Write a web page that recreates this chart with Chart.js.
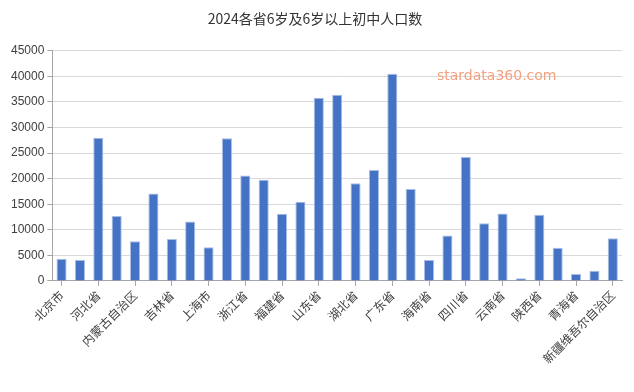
<!DOCTYPE html>
<html>
<head>
<meta charset="utf-8">
<script src="https://cdn.jsdelivr.net/npm/chart.js@4/dist/chart.umd.min.js"></script>
<style>
  html, body { margin: 0; padding: 0; background: #fff; }
  #wrap { width: 634px; height: 392px; }
</style>
</head>
<body>
<div id="wrap"><canvas id="c"></canvas></div>
<script>
const provinces = ['北京市','天津市','河北省','山西省','内蒙古自治区','辽宁省','吉林省','黑龙江省','上海市','江苏省',
  '浙江省','安徽省','福建省','江西省','山东省','河南省','湖北省','湖南省','广东省','广西壮族自治区',
  '海南省','重庆市','四川省','贵州省','云南省','西藏自治区','陕西省','甘肃省','青海省','宁夏回族自治区','新疆维吾尔自治区'];
const population = [4340, 4070, 27980, 12680, 7750, 17080, 8210, 11630, 6570, 27920,
  20630, 19770, 13140, 15500, 35800, 36390, 19120, 21680, 40530, 18000,
  4070, 8870, 24240, 11300, 13200, 530, 12940, 6500, 1380, 1970, 8340];
const yTicks = [0, 5000, 10000, 15000, 20000, 25000, 30000, 35000, 40000, 45000];

const CJK = '"Noto Sans CJK SC", "Noto Sans", sans-serif';

// watermark text in the top right
const watermark = {
  id: 'watermark',
  afterDraw(chart) {
    const ctx = chart.ctx;
    ctx.save();
    ctx.font = '14px "DejaVu Sans", sans-serif';
    ctx.fillStyle = '#f4a07e';
    ctx.textBaseline = 'middle';
    ctx.fillText('stardata360.com', 437, 76);
    ctx.restore();
  }
};

new Chart(document.getElementById('c'), {
  type: 'bar',
  data: {
    labels: provinces,
    datasets: [{
      data: population,
      backgroundColor: '#4472c4',
      borderColor: '#a9bde6',
      borderWidth: 1,
      categoryPercentage: 1,
      barPercentage: 0.55
    }]
  },
  options: {
    responsive: true,
    maintainAspectRatio: false,
    animation: false,
    layout: { padding: { left: 8, right: 12, top: 4, bottom: 24 } },
    plugins: {
      legend: { display: false },
      tooltip: { enabled: false },
      title: {
        display: true,
        text: '2024各省6岁及6岁以上初中人口数',
        color: '#333',
        font: { family: CJK, size: 14, weight: 'normal' },
        padding: { top: 6, bottom: 24 }
      }
    },
    scales: {
      x: {
        offset: true,
        grid: { offset: false, drawOnChartArea: false, drawTicks: true, tickLength: 5, color: '#a6a6a6' },
        border: { color: '#a6a6a6' },
        ticks: {
          autoSkip: false,
          maxRotation: 45, minRotation: 45,
          color: '#404040',
          font: { family: CJK, size: 12 },
          padding: 2,
          callback: (v, i) => i % 2 === 0 ? provinces[i] : null
        }
      },
      y: {
        min: 0, max: 45000,
        afterBuildTicks: axis => { axis.ticks = yTicks.map(v => ({ value: v })); },
        grid: { color: '#d9d9d9', tickLength: 5, tickColor: '#a6a6a6' },
        border: { color: '#a6a6a6' },
        ticks: {
          color: '#404040',
          font: { family: '"Liberation Sans", sans-serif', size: 12 },
          padding: 3,
          callback: v => String(v)
        }
      }
    }
  },
  plugins: [watermark]
});
</script>
</body>
</html>
